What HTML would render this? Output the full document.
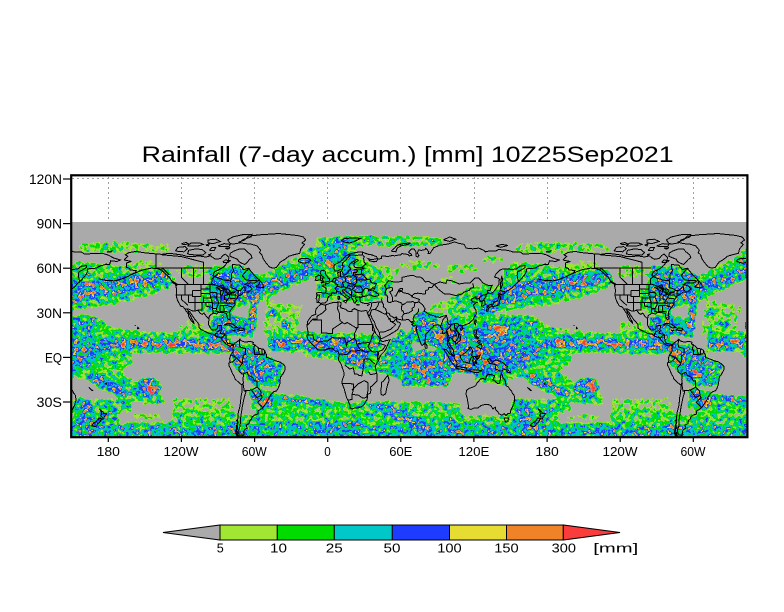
<!DOCTYPE html>
<html><head><meta charset="utf-8"><style>
html,body{margin:0;padding:0;background:#fff}
svg{display:block}
.a{fill:#707070}.b{fill:#8a8a8a}.c{fill:#a3a3a3}.d{fill:#b6b6b6}.e{fill:#c8c8c8}.f{fill:#dcdcdc}.g{fill:#2a2a2a}
polyline{fill:none;stroke:#000;stroke-width:1;vector-effect:non-scaling-stroke;shape-rendering:crispEdges}
.lbl{font-family:"Liberation Sans",sans-serif;fill:#000}
</style></head><body>
<svg width="784" height="612" viewBox="0 0 784 612" xmlns="http://www.w3.org/2000/svg">
<rect width="784" height="612" fill="#fff"/>
<defs>
<clipPath id="dat"><rect x="72" y="222" width="674" height="214.5"/></clipPath>
<filter id="rain" filterUnits="userSpaceOnUse" x="71" y="222" width="676" height="215" color-interpolation-filters="sRGB">
<feGaussianBlur in="SourceGraphic" stdDeviation="1.3" result="bl"/>
<feTurbulence type="fractalNoise" baseFrequency="0.23" numOctaves="2" seed="7" result="t"/>
<feColorMatrix in="t" type="matrix" values="1 0 0 0 0 0 1 0 0 0 0 0 1 0 0 0 0 0 0 1" result="n"/>
<feComposite in="bl" in2="n" operator="arithmetic" k1="0" k2="1" k3="0.8" k4="-0.4" result="s"/>
<feColorMatrix in="s" type="matrix" values="1 0 0 0 0 1 0 0 0 0 1 0 0 0 0 0 0 0 0 1" result="m"/>
<feComponentTransfer in="m">
<feFuncR type="discrete" tableValues="0.667 0.667 0.667 0.667 0.667 0.667 0.667 0.667 0.627 0.627 0 0 0 0 0.118 0.118 0.902 0.941 0.941 0.98"/>
<feFuncG type="discrete" tableValues="0.667 0.667 0.667 0.667 0.667 0.667 0.667 0.667 0.902 0.902 0.863 0.863 0.784 0.784 0.235 0.235 0.863 0.51 0.51 0.235"/>
<feFuncB type="discrete" tableValues="0.667 0.667 0.667 0.667 0.667 0.667 0.667 0.667 0.196 0.196 0 0 0.784 0.784 1 1 0.196 0.157 0.157 0.235"/>
<feFuncA type="linear" slope="0" intercept="1"/>
</feComponentTransfer>
</filter>

<g id="F" transform="matrix(1.21875 0 0 -1.487 -111.075 357.4)">
<rect class="b" x="-180" y="-58" width="360" height="20"/>
<rect class="c" x="-180" y="-58" width="360" height="13"/>
<polygon class="g" points="-170,-37 -128,-37 -128,-43 -170,-44"/>
<polygon class="g" points="112,-33 145,-34 145,-39 112,-39"/>
<polygon class="a" points="152,70 190,69.5 232,70.5 230,77 190,78.5 155,77.5"/>
<ellipse class="a" cx="75" cy="62" rx="18" ry="4"/>
<ellipse class="a" cx="110" cy="60" rx="14" ry="4"/>
<ellipse class="a" cx="135" cy="66" rx="10" ry="3"/>
<ellipse class="a" cx="50" cy="58" rx="10" ry="4"/>
<ellipse class="a" cx="100" cy="52" rx="8" ry="3"/>
<ellipse class="a" cx="150" cy="58" rx="10" ry="4"/>
<ellipse class="a" cx="95" cy="33" rx="12" ry="5"/>
<polygon class="a" points="235,14 265,13 258,24 240,25"/>
<ellipse class="a" cx="-150" cy="-40" rx="14" ry="2.5"/>
<polygon class="a" points="-128,-27 -80,-27 -75,-36 -128,-38"/>
<ellipse class="a" cx="-150" cy="62" rx="15" ry="4"/>
<ellipse class="a" cx="-110" cy="58" rx="15" ry="5"/>
<polygon class="a" points="-55,15 -25,15 -20,35 -50,40"/>
<ellipse class="a" cx="40" cy="55" rx="15" ry="8"/>
<ellipse class="b" cx="180" cy="74" rx="15" ry="2.5"/>
<polygon class="b" points="-10,75 30,74 60,74 95,75 95,81 60,82.5 20,82.5 -10,81"/>
<polygon class="b" points="140,30 160,32 185,35 210,40 230,46 236,52 230,60 210,61 190,62 170,64 152,65 140,50"/>
<polygon class="b" points="100,22 125,25 140,30 145,38 145,47 130,50 115,47 100,40"/>
<polygon class="b" points="100,-10 150,-15 185,-12 200,-5 200,5 185,20 170,28 150,30 130,28 115,25 100,25 95,10"/>
<polygon class="b" points="170,2 200,2 240,2 270,1 282,3 282,17 260,18 240,17 210,18 190,20 170,22"/>
<polygon class="b" points="150,-2 175,0 190,-8 205,-18 225,-25 228,-32 210,-32 190,-28 170,-20 155,-12"/>
<polygon class="b" points="150,-28 200,-27 200,-40 150,-40"/>
<polygon class="b" points="-128,-36 -75,-36 -75,-46 -128,-46"/>
<polygon class="b" points="-60,-22 -40,-24 -20,-25 0,-28 20,-30 20,-40 -60,-40"/>
<polygon class="b" points="20,-28 110,-30 110,-40 20,-40"/>
<polygon class="b" points="-105,30 -80,28 -70,40 -70,45 -95,50 -105,45"/>
<polygon class="b" points="-78,32 -55,37 -35,45 -15,52 5,60 25,72 25,82 5,82 -15,72 -35,64 -55,56 -75,46"/>
<polygon class="b" points="-50,3 -15,3 -10,18 -50,18"/>
<polygon class="b" points="-65,-20 -45,-22 -48,-35 -65,-35"/>
<polygon class="b" points="-20,0 10,-3 30,-12 45,-8 45,15 20,17 -20,17"/>
<polygon class="b" points="-10,40 20,36 45,38 55,50 40,60 20,72 0,72 -10,55"/>
<polygon class="b" points="120,-10 145,-10 150,-20 130,-18 120,-16"/>
<ellipse class="b" cx="-10" cy="70" rx="12" ry="5"/>
<ellipse class="c" cx="5" cy="78" rx="8" ry="2"/>
<polygon class="c" points="110,5 120,-10 150,-12 170,-5 175,10 160,20 140,25 120,20"/>
<ellipse class="c" cx="160" cy="22" rx="12" ry="6"/>
<polygon class="c" points="-100,45 -75,42 -60,45 -55,55 -70,62 -95,62"/>
<polygon class="c" points="-98,18 -80,15 -60,12 -60,25 -80,30 -95,28"/>
<polygon class="c" points="-80,-5 -60,-20 -40,-20 -35,-5 -50,2 -65,10 -78,8"/>
<ellipse class="c" cx="15" cy="65" rx="8" ry="6"/>
<polygon class="c" points="40,-10 60,-15 70,-5 70,15 60,20 50,10 45,0"/>
<polygon class="c" points="65,12 80,8 90,18 92,28 80,32 70,30 68,20"/>
<polygon class="c" points="60,-20 100,-20 105,-5 95,5 75,6 60,0"/>
<polygon class="d" points="145,35 160,37.5 180,41.5 200,44 215,47 228,51 232,56 226,58 210,56 190,54.5 170,52 150,50 140,45"/>
<polygon class="d" points="125,28 135,30 145,35 150,42 143,44 133,38 125,33"/>
<ellipse class="d" cx="125" cy="40" rx="5" ry="3"/>
<ellipse class="d" cx="130" cy="15" rx="10" ry="7"/>
<ellipse class="d" cx="150" cy="8" rx="12" ry="6"/>
<ellipse class="d" cx="165" cy="4" rx="12" ry="5"/>
<ellipse class="d" cx="125" cy="3" rx="8" ry="6"/>
<ellipse class="d" cx="140" cy="-5" rx="10" ry="5"/>
<ellipse class="d" cx="157" cy="0" rx="9" ry="6"/>
<polygon class="d" points="175,5 200,6 240,6 270,4 280,5 280,11 260,12 240,12.5 210,13 190,13.5 175,13"/>
<polygon class="d" points="165,-10 180,-14 195,-20 200,-26 190,-27 175,-22 162,-15"/>
<ellipse class="d" cx="213" cy="-20" rx="11" ry="7"/>
<polygon class="d" points="155,-54 168,-44 183,-33 189,-35 176,-46 163,-56"/>
<polygon class="d" points="150,-45 162,-39 166,-41 155,-48"/>
<polygon class="d" points="155,-25 165,-30 170,-40 165,-48 158,-45 155,-35"/>
<ellipse class="d" cx="-132" cy="-50" rx="8" ry="2.5"/>
<ellipse class="d" cx="-100" cy="-51" rx="10" ry="2.5"/>
<ellipse class="d" cx="-78" cy="-48" rx="4" ry="4"/>
<polygon class="d" points="-45,-25 -20,-28 0,-30 0,-33 -20,-31 -45,-29"/>
<polygon class="d" points="-10,-45 20,-42 30,-44 30,-48 0,-50 -10,-49"/>
<polygon class="d" points="35,-33 45,-37 65,-45 80,-52 90,-50 80,-42 60,-35 40,-30"/>
<polygon class="d" points="95,-40 110,-45 115,-52 100,-52"/>
<ellipse class="d" cx="-85" cy="52" rx="8" ry="5"/>
<ellipse class="d" cx="-70" cy="48" rx="8" ry="4"/>
<ellipse class="d" cx="-88" cy="42" rx="8" ry="5"/>
<ellipse class="d" cx="-80" cy="36" rx="5" ry="4"/>
<ellipse class="d" cx="-88" cy="22" rx="6" ry="4"/>
<ellipse class="d" cx="-75" cy="18" rx="6" ry="3"/>
<ellipse class="d" cx="-90" cy="13" rx="8" ry="4"/>
<polygon class="d" points="-66,18 -58,18 -56,48 -63,49"/>
<polygon class="d" points="-75,37 -55,42 -35,48 -15,55 5,65 20,78 15,82 0,72 -12,64 -30,58 -50,52 -65,48 -77,43"/>
<ellipse class="d" cx="-45" cy="30" rx="4" ry="3"/>
<ellipse class="d" cx="-35" cy="22" rx="4" ry="3"/>
<polygon class="d" points="-48,6 -18,6 -15,13 -48,14"/>
<polygon class="d" points="-78,0 -68,-12 -55,-15 -45,-8 -50,0 -62,5 -75,5"/>
<ellipse class="d" cx="-58" cy="-25" rx="6" ry="4"/>
<ellipse class="d" cx="-77" cy="7" rx="5" ry="4"/>
<polygon class="d" points="-17,5 10,3 15,-5 30,-8 35,5 30,12 10,14 -17,14"/>
<ellipse class="d" cx="38" cy="10" rx="4" ry="4"/>
<polygon class="d" points="5,45 20,42 35,48 30,58 15,60 5,52"/>
<polygon class="d" points="72,17 85,18 90,24 88,28 78,28 74,22"/>
<polygon class="d" points="82,8 95,5 110,5 115,15 108,25 95,25 85,18"/>
<polygon class="d" points="65,-12 95,-18 100,-8 90,3 70,2 62,-5"/>
<polygon class="d" points="95,-10 130,-12 150,-8 150,5 125,10 105,10 95,0"/>
<ellipse class="e" cx="141" cy="18" rx="8" ry="6"/>
<polygon class="e" points="185,8 265,7.5 265,10.5 185,11"/>
<ellipse class="e" cx="215" cy="-20.5" rx="6" ry="4.5"/>
<ellipse class="e" cx="-51" cy="-30" rx="6" ry="4"/>
<polygon class="f" points="157,48.5 166,49.5 166,51.5 157,50.5"/>
<polygon class="f" points="181,41.5 192,42.5 192,44 181,43"/>
<polygon class="f" points="196,49.5 209,50.5 209,52 196,51"/>
<polygon class="f" points="155,40 165,41 165,42.5 155,41.5"/>
<ellipse class="f" cx="141" cy="18" rx="4.5" ry="4"/>
<ellipse class="f" cx="192" cy="8" rx="5" ry="1.6"/>
<ellipse class="f" cx="210" cy="10" rx="5" ry="1.6"/>
<ellipse class="f" cx="232" cy="9" rx="5" ry="1.6"/>
<ellipse class="f" cx="270" cy="7.5" rx="5" ry="1.6"/>
<ellipse class="f" cx="216" cy="-21" rx="3.5" ry="3"/>
<ellipse class="f" cx="-50" cy="-30.5" rx="3" ry="2.5"/>
<ellipse class="f" cx="-60" cy="40" rx="2" ry="3"/>
<ellipse class="f" cx="-61" cy="30" rx="2" ry="3"/>
<ellipse class="f" cx="-62" cy="22" rx="2" ry="2"/>
<ellipse class="f" cx="-18" cy="64" rx="5" ry="1.6"/>
<ellipse class="f" cx="2" cy="62" rx="3" ry="2"/>
<ellipse class="f" cx="-38" cy="9" rx="3" ry="1.6"/>
<ellipse class="f" cx="-25" cy="10" rx="3" ry="1.6"/>
<ellipse class="f" cx="-57" cy="-11" rx="4" ry="2"/>
<ellipse class="f" cx="-70" cy="-3" rx="2" ry="2"/>
<ellipse class="f" cx="-75" cy="3" rx="3" ry="2"/>
<ellipse class="f" cx="-78" cy="6" rx="2" ry="2"/>
<ellipse class="f" cx="-80" cy="25" rx="2" ry="2"/>
<ellipse class="f" cx="-10" cy="9" rx="2.5" ry="2"/>
<ellipse class="f" cx="5" cy="10" rx="3" ry="2"/>
<ellipse class="f" cx="20" cy="4" rx="3" ry="2"/>
<ellipse class="f" cx="28" cy="-2" rx="2" ry="2"/>
<ellipse class="f" cx="92" cy="14" rx="4" ry="3"/>
<ellipse class="f" cx="100" cy="17" rx="3" ry="2"/>
<ellipse class="f" cx="110" cy="12" rx="3" ry="2"/>
<ellipse class="f" cx="70" cy="-4" rx="3" ry="2"/>
<ellipse class="f" cx="84" cy="-16" rx="3" ry="2"/>
<ellipse class="f" cx="80" cy="-8" rx="2" ry="2"/>
<ellipse class="f" cx="105" cy="0" rx="3" ry="3"/>
<ellipse class="f" cx="115" cy="-5" rx="3" ry="2"/>
<ellipse class="f" cx="125" cy="5" rx="3" ry="3"/>
<ellipse class="f" cx="130" cy="-3" rx="3" ry="2"/>
</g>

<g id="C" transform="matrix(1.21875 0 0 -1.487 -111.075 357.4)">
<polyline points="-167,65.5 -164,68 -166,69 -163,70.5 -157,71.3 -152,70.5 -146,70 -141,69.6 -136,69.3 -130,70 -125,69.5 -119,68.8 -115,67.8 -110,67.9 -105,68.2 -100,67.5 -96,68.3 -94,67 -92,66 -88,66.5 -86,68.5 -84,69.5 -82,68 -81,67 -82,64.5 -84,62 -86,60.5 -89,59 -93,57.5 -94,55 -92,54 -85,52 -80,51.5 -79,53 -79,56 -77,58.5 -78,60 -78,62.5 -72,62 -69,59 -65,60 -62,57 -60,55 -56,52 -60,50 -66,50 -68,49 -64,48 -62,46 -65,44 -68,44 -70,43 -71,42 -74,41 -74,40 -76,38.5 -76,37 -76,35.3 -77,34.5 -79,32.5 -80.5,30.5 -80,27 -80,26 -81,25.2 -82,26 -82.5,27 -83,29.5 -85,30 -87,30.3 -90,30.2 -91,29.2 -94,29.8 -97,28 -97.5,26 -97.7,22 -96,19.5 -94.5,18.3 -92,18.5 -90.5,19.5 -90.5,21.2 -87,21.5 -87.2,18.5 -88.2,16 -85,15.8 -83.5,15 -83.5,13 -83.2,11 -82.1,9.4 -80,9.3 -78,8.8 -77,8.5 -77.5,7.8 -78.5,8.3 -80,7.5 -82,8.2 -84,9.5 -85.7,11 -87.5,13 -91,14 -94,15.8 -97,16 -100,17.2 -104,18.8 -105.5,20 -105.5,22 -107,23.8 -109,25.5 -111,28 -113,30.5 -114.7,31.7 -114,30 -112.5,28 -111.5,26 -110,24 -109.8,23 -111,24 -112,24.8 -114,27.5 -114.5,29.5 -116,31 -117.2,32.6 -118.5,34 -120.6,34.5 -122,36.5 -123,38 -123.8,40 -124.3,42 -124,44 -124,46 -124.7,48.4 -123,49 -125,50 -128,51.5 -130,54 -133.5,56.5 -136,58.5 -140,59.8 -144.5,60 -148,59.5 -152,58.8 -156,57.5 -160,56 -163,55 -158,57 -157,58.5 -162,58.7 -162.5,59.8 -165,60.5 -165,62 -165,63.5 -161,64.5 -167,65.5"/>
<polyline points="-123.5,48.4 -125.5,49.5 -128.3,50.8 -127,50.5 -124.5,49 -123.5,48.4"/>
<polyline points="-73,77.5 -68,79 -65,81.5 -55,82.5 -40,83.3 -25,82 -20,81 -18,79 -21,77 -19,76 -22,73 -23,70 -28,69 -32,68 -35,66 -39,64 -42,60.5 -45,60 -48,61 -51,64 -53,66.5 -54,69 -56,70.5 -55,72 -58,75 -63,76.2 -68,76.5 -73,77.5"/>
<polyline points="-24,65.5 -22,66.4 -16,66.5 -14,65 -18,63.4 -22,63.8 -24,64.5 -24,65.5"/>
<polyline points="-80,70 -77,71.5 -72,73 -68,72.8 -66,71 -63,69 -62,67 -64,66 -66,64 -68,62.5 -71,63.5 -73,64.5 -74,66 -77,67 -80,68 -80,70"/>
<polyline points="-80,76.5 -82,79 -78,81 -70,82.5 -62,82.8 -63,81 -70,79 -72,77 -77,76.3 -80,76.5"/>
<polyline points="-90,75 -85,76.5 -80,76 -81,74.5 -88,74.5 -90,75"/>
<polyline points="-115,69.5 -114,72 -108,73 -103,72.5 -100,70.5 -102,69 -108,68.8 -115,69.5"/>
<polyline points="-125,71.5 -123,74 -117,74.5 -115,73 -118,71 -125,71.5"/>
<polyline points="-115,75 -112,77 -105,77 -102,76 -107,74.8 -115,75"/>
<polyline points="-98,77 -98,79 -92,79.5 -88,78 -94,76.5 -98,77"/>
<polyline points="-97,72 -95,74 -92,73.8 -93,72 -97,72"/>
<polyline points="-120,76.5 -116,77.3 -114,76.3 -118,75.8 -120,76.5"/>
<polyline points="-100,75.5 -97,76.5 -98,75 -100,75.5"/>
<polyline points="-98,69 -96,69.5 -97,68.5 -98,69"/>
<polyline points="-84,73.5 -80,73.8 -82,72.8 -84,73.5"/>
<polyline points="-86,64 -84,65.5 -80,65 -82,63.8 -86,64"/>
<polyline points="-59,47.6 -56,49.5 -55.5,51.5 -53,49 -52.8,47 -55,46.8 -59,47.6"/>
<polyline points="-85,21.8 -82,23 -78,22.3 -74.2,20.2 -77.5,19.8 -80,21.5 -83,22 -85,21.8"/>
<polyline points="-74.4,18.5 -72,19.9 -69,19.5 -68.4,18.5 -71,18 -74.4,18.5"/>
<polyline points="-78.3,18.4 -76.3,18 -77,17.8 -78.3,18.4"/>
<polyline points="-92,46.7 -89,48 -86,48.7 -84.5,46.5 -87,46.5 -90,46.6 -92,46.7"/>
<polyline points="-87.8,42 -88,44.5 -85,46 -85.5,44 -86.5,42 -87.8,42"/>
<polyline points="-84.5,46 -81.5,45.9 -80,44.5 -82,43 -84,44 -84.5,46"/>
<polyline points="-83.5,41.7 -79,42.8 -80.5,42.5 -83,42 -83.5,41.7"/>
<polyline points="-79.8,43.3 -76.2,43.5 -77,44 -79.2,43.8 -79.8,43.3"/>
<polyline points="172,52.8 178,51.8 185,51.5 190,52.5 195,54 197,54.8"/>
<polyline points="-156,19 -155,19.6 -155.8,20.2 -156,19"/>
<polyline points="-158.3,21.3 -157.7,21.6 -158,21.2"/>
<polyline points="-77,8.6 -76,9.6 -74.5,10.5 -73,11.2 -72,12.3 -70.5,11 -68.5,10.5 -66,10.5 -64,10.6 -62,10.5 -61,10 -61.5,9 -60,8.5 -58,7.2 -56.5,6 -54.5,5.8 -53,5.5 -51.5,4.5 -51,3 -50,1.5 -50,0 -48,-0.5 -47,-1 -45,-1.5 -42,-2.5 -39.5,-3 -37.5,-4 -36,-5 -35,-6 -34.8,-7.5 -35,-8.5 -36,-10 -37,-11.5 -38.5,-13 -39,-15 -39.2,-17.5 -40,-19.5 -40.7,-21 -42,-22.5 -44,-23 -45.5,-24 -47,-25.5 -48.5,-28 -49.5,-29.5 -51,-31.3 -52.5,-33 -53.5,-34 -55,-35 -57.3,-36 -57.2,-38 -60,-38.8 -62,-40 -62.5,-41.5 -64,-42.5 -64.5,-44.5 -67,-45.5 -66,-47.5 -68,-48.5 -69,-50 -68.5,-52 -70,-53 -71,-54.5 -74,-53 -75.5,-51 -75,-48 -74.5,-46 -74,-43 -73.7,-41 -73.5,-38 -73,-36 -72,-33 -71.5,-30 -71.2,-27 -70.5,-24 -70.2,-21 -70.3,-18.5 -72,-17.5 -74,-16 -76,-14.5 -76.5,-13 -78,-11 -79,-9 -80,-7 -81,-5.5 -81.2,-4 -80.5,-3 -80,-2 -80.5,-1 -80,0.5 -79.5,1.5 -78.5,3 -77.5,4 -77.5,5.5 -77.5,7 -77,8.6"/>
<polyline points="-75,-42 -73.5,-44 -75,-46 -74,-48 -75.5,-50 -74,-52 -72,-53.5"/>
<polyline points="-73.5,-43 -74.5,-45 -73.8,-47 -75,-49 -73.5,-51 -75,-53"/>
<polyline points="-5.6,35.9 -8,34 -9.5,32.5 -10,31 -9.7,29 -13,28 -15,26 -16.5,24 -17,21 -16.5,19 -16,16 -17,14.7 -16.5,12.5 -15,11 -13,9 -11,7.5 -8,5 -5,4.8 -2,5.1 1,6 3.5,6.3 6,4.5 8.5,4 9.5,2 9,0 9,-2 11,-4.5 12,-7 13.5,-10.5 13.5,-12 12,-15 11.8,-17.5 13.5,-21 14.5,-24 15.5,-27 17,-29.5 18.2,-32 18.5,-34 20,-34.8 22,-34 25,-34 28,-33 30,-31.5 31,-30 32.3,-28.5 32.8,-26 32.5,-25 35,-24 35.5,-22 35,-20 36.8,-19 39,-17 40.5,-16 40.6,-14 40.3,-11 39.5,-8 39,-6 40,-4.5 41,-3 42,-1.5 42.5,0 44,2 46.5,4 48,6 49,8 50,10 51.3,11.8 48,11.3 45,10.5 43.5,11.6 42.5,13 41,14.8 39.5,16 38.5,18 37.3,21 36.5,22.5 35.5,24.5 34.5,26.5 33.5,28 32.5,30 32.3,31.3 31,31.5 28,31 25,31.6 22,32.8 20,32 19.8,30.8 18,30.8 16,31.3 15,32.3 11,33.3 10.2,34.5 11,35.5 11,37 9,37.2 7,37 4,36.8 0,35.8 -2,35.1 -5.6,35.9"/>
<polyline points="44,-25 43.5,-22 44.3,-19 44,-17 46,-15.7 48,-13.5 49.3,-12 50.5,-15.5 49.5,-17.5 48.5,-20.5 47.5,-24.5 45.5,-25.5 44,-25"/>
<polyline points="-5.6,36 -7,37 -8.9,37 -8.8,38.8 -9.5,39.5 -8.8,42 -9.2,43.2 -7.5,43.7 -4,43.4 -1.8,43.4 -1.3,44.5 -1.2,46 -2.3,47.2 -4.5,48 -3,48.8 -1.5,48.7 -1.8,49.7 0,49.5 1.5,50.2 2.5,51 4,51.5 4.8,53 7,53.5 8.8,54 8.3,55.5 8.2,57 10.5,57.7 10.5,56.5 10.7,55.5 10,54.5 11.5,54.2 14,54 17,54.7 19.5,54.5 21,55.3 21,57 23.5,57 24.5,58.5 22.5,59 25,59.5 28,59.6 30,60 28,60.5 25,60.3 22.5,60.5 21.5,61.5 21.5,63 23.5,64.5 25.3,65 24.5,65.8 22,65.5 21.5,64.5 19,63.5 18,62.5 17.3,61 18.5,60 19,59.3 17.5,58.7 16.5,57 16,56.3 14.2,55.5 12.8,55.5 12.5,56.5 11.8,57.7 11.2,58.9 10,59 8,58 6,58.2 5.2,59.5 5,61.5 6,62.5 8.5,63.5 10,64.2 12.5,65.8 14,67.5 15.5,68.5 18,69.5 20,70 23,70.5 26,71 28.5,70.8 31,70 33,69.4 36,69 40,67.8 41,66.5 38,66 34.8,66 33,66.5 34.5,65 36.5,64.5 38,64.3 40,64.5 41,66 44,66.5 44,68 46,68.3 49,67.8 53,68.5 55,68.3 58,68.8 60,69 61,69.8 66,69.2 67,68.3 69,68.5 68.5,69.5 66.5,70.5 67,71.5 69,73 71,72.8 72.5,71 72.5,68 74,67.5 75,68.5 73.5,70 74.5,72.2 77,72 80,72.5 80.5,73.5 83,71 82.5,70 84,70 87,73.7 92,75.5 97,76 100,76.5 104,77.7 107,76.8 112,76 113.5,73.5 119,73 124,73.5 128,72 129.5,71 132,71.5 138,71.5 140,72.5 146,72.2 150,71.5 152,70.9 158,70.8 160,69.7 165,69.7 168,70 170,69.8 176,69.8 180,68.8 184,67 187,66.2 190,65.5 187,64.5 182,65 181,62.5 178,62.5 179,63 176,62 174,61.7 170,60 166,59.8 163,59.5 163,58 162,56 161,55 158,52 156.5,51 156,52.5 155.5,55 155.8,57.5 157,58 160,59.3 162,60.5 162,61.7 158,61.5 155,59.5 152,59.2 149,59.3 145,59.3 143,59.3 141,58.5 138,56 137,54 140,53.3 141,52.5 140.5,51 140.5,49 139,47.5 138,46 136,44 134,43 132,43.2 130,42.5 129.8,40.8 129,40 128,39 129,37.5 129.4,35.5 127,34.5 126.3,34.6 126.5,36 126.7,37.5 125,37.7 124.5,39.7 122,39.2 121,40.5 122,40.6 121.5,40.9 120,40 118,39.2 117.7,38.5 118.7,37.5 119.8,37.2 122.5,37 120.7,36.1 119.5,35.2 120.8,32.6 121.8,31.7 121.6,30.6 122,29.8 121.5,28.5 120.3,27.2 119.5,25.5 118,24.5 116,22.9 114,22.3 112,21.7 110.5,21.2 110.3,20.3 109.7,21.5 108,21.5 106.7,20.5 105.7,19 106.5,17.5 108,16 109,13.8 109.2,12 108,10.8 106.7,10.3 104.8,8.6 105,10 104.5,10.5 103,11 102.3,12.2 100.9,13.4 100,13.5 99.3,10.5 100.3,8.3 101.3,6.8 102.2,6.2 103.4,4.5 103.4,2.6 104.2,1.4 103.5,1.3 101.3,2.8 100.5,4.2 100.3,6 98.5,8.2 98.3,10 98.6,12 97.7,16 97.3,17 95.5,15.8 94.3,16.1 94.5,18.5 93,20 92,21.5 90.5,22 89,21.8 87,21.5 86.9,20.7 85,19.5 82.3,17 80.3,15.3 80.2,13 79.8,10.3 78.9,9 77.5,8 76.6,8.9 76,10.5 75,12.5 74.2,14.7 73.2,17 72.9,19.5 72.7,21.2 72.5,21.8 70.5,21 69,22.3 70.5,23 68.5,23.6 67.2,24.8 66.5,25.4 64,25.3 61.5,25.1 58.8,25.5 57.3,25.9 56.4,27.2 54.6,26.5 52.8,27.5 51.3,28 50.6,29.2 49.5,30 48.5,29.9 47.9,29.3 48.5,28.5 49.5,27 50.2,26.3 50.5,25.4 51.1,26.1 51.6,25 51.6,24.2 52.5,24.2 54.5,24.3 56.3,26.2 56.4,24.9 57.3,23.8 58.9,23.6 59.8,22.5 58.5,20.5 57.7,19 55.5,17.6 52.2,16 49,14.5 45,12.9 43.5,12.6 43.2,13.5 42.6,15.5 42.5,16.6 41.2,18.5 40,20 39.1,21.6 38.5,23.6 37.5,24.8 36.6,26 35.6,28 34.9,29.4 34.3,28 33.8,27.7 32.6,29.9 34.2,31.3 34.9,32.5 35.5,33.8 36,34.6 35.8,36 36.2,36.7 34.5,36.8 32.5,36.1 30.5,36.3 29,36.6 27.3,37 26.3,38.3 26.7,39.3 26.1,40.6 27.5,40.4 29,41 31.5,41.2 33.5,42 35.2,42 36.9,41.3 38.3,40.9 41.5,41.5 41.6,42.6 39.5,44 37.5,44.7 38.3,46.3 37,46.8 35,45.6 33.5,46 33.6,44.6 35.5,45.1 36.5,45.3 33.5,46 31.5,46.6 30.7,46.4 29.6,45.4 28.6,44.2 27.9,42.5 28.9,41.3 26.4,40.2 26,40.8 24,40.7 23,40.3 22.7,39.8 23.2,39 24,38.2 23,37.5 22.5,36.4 21.5,37 21,38.2 19.5,40.3 19.4,41.7 18.5,42.4 17,43.2 15.5,44 14,45 13.5,45.7 12.3,45.3 12.4,44.2 13.6,43.5 14.6,42.1 16,41.4 18.5,40.2 17.2,39.4 16.6,38.8 15.6,38 16.2,39.5 15.5,40 14.1,40.8 13.6,41.3 11.2,42.4 10.3,43.9 8.9,44.4 7.5,43.8 6,43.1 4.5,43.4 3,43.3 3.2,41.9 0.8,41 0.2,40 -0.3,39.3 0,38.7 -0.7,37.6 -2.1,36.7 -4.4,36.7 -5.6,36"/>
<polyline points="-5.7,50 -3,50.6 1.4,51.2 1.7,52.6 0.3,53.4 -0.2,54.5 -1.5,55.6 -2,56.5 -1.8,57.6 -3,58.6 -5,58.6 -6.2,57.3 -5.6,56 -4.8,54.8 -3.2,54.1 -3,53.3 -4.6,53.3 -4.2,52.3 -5.2,51.7 -3.4,51.4 -5.7,50"/>
<polyline points="-6,52.2 -6,53.9 -5.7,54.8 -7.5,55.3 -8.4,54.7 -10,54.2 -9.5,53 -10.3,51.9 -8.3,51.8 -6,52.2"/>
<polyline points="52,71.5 55,73.5 57,75.5 62,76.5 68,77 66,76 60,75 57,73.5 56,71 52,71.5"/>
<polyline points="11,78.5 14,80 22,80.3 27,80 22,78 18,77 14,77.5 11,78.5"/>
<polyline points="95,79 100,81 105,79.5 100,78 95,79"/>
<polyline points="138,75 143,76 148,75.3 142,74 138,75"/>
<polyline points="179,71 183,71.5 182,70.8 179,71"/>
<polyline points="47,42 47.5,45 49,46.5 51.5,47 53,46.8 53,45 51,44 52.5,41.8 53.2,40 53,37.5 51,36.8 49,37.5 49.3,40.5 48.5,41.8 47,42"/>
<polyline points="58.5,44 61,44.5 61.5,46.5 59.5,46.5 58.5,44"/>
<polyline points="12.4,38 15.6,38.3 15,36.7 12.4,38"/>
<polyline points="8.4,39 9.8,39.2 9.6,41 8.3,40.9 8.4,39"/>
<polyline points="23.5,35.3 26.3,35.2 24,35.6 23.5,35.3"/>
<polyline points="32.3,34.7 34.5,35.6 33,35.3 32.3,34.7"/>
<polyline points="79.9,6.5 80.1,9.8 81.5,8 81.7,6.4 80.6,5.9 79.9,6.5"/>
<polyline points="108.6,19 110,20 111,19.5 110,18.2 108.6,19"/>
<polyline points="120.2,23 121,25.2 122,25 121.2,22 120.2,23"/>
<polyline points="130,31.5 131,33.3 132,34.2 131,34.5 133,35.5 136,35.8 136.2,37.2 137,37 139.5,38.3 140,39.8 140,41.2 141,41.5 140,42.5 141.3,43.2 141.7,45.3 142.7,44.6 145.3,44.2 145.5,43.3 143.3,42 141.5,42.6 141.4,41.4 142,39.5 141,38.3 140.9,36.6 140.5,35.3 139.7,35.1 139,34.8 137,34.6 136,33.8 135,33.9 135.2,34.6 134,34.4 133,33.5 132,33 131.5,31.5 130.5,31 130,31.5"/>
<polyline points="142,46 141.8,49 142.2,52 142.8,54.3 143.5,53 143,50 143.5,49 142.5,47 142,46"/>
<polyline points="145.5,43.5 147,44.5 150,46 152.5,47.5 154.5,49.5 156.5,50.8"/>
<polyline points="120,18.5 122.4,18.4 122,16 121.5,14.5 124,13 123,12.5 121,13.7 120.6,14.5 120,16 120,18.5"/>
<polyline points="122,7 124.5,8.6 126.4,9 126.5,6.5 125.4,5.6 124,6.7 122,7"/>
<polyline points="123,11 125,11.5 125,10 123.5,9.5 123,11"/>
<polyline points="109,1.7 110.5,1.6 113,3.3 115.5,5.3 117,7 118.5,5.3 119,4.3 118,1.1 119,0.5 117.5,-0.5 116.5,-2.6 116,-3.9 114.5,-3.6 113,-3.2 111.5,-3 110,-1.7 109,0 109,1.7"/>
<polyline points="95.3,5.6 97.5,5.2 100,2.5 103.7,0.5 104.5,-1.8 106,-3.1 105.9,-5.7 104.5,-5.9 102.3,-4 101,-2.4 99.2,0 98,2.2 96.5,3.7 95.3,5.6"/>
<polyline points="105.2,-6.8 106,-6 108.3,-6.3 110.5,-6.9 112.5,-6.8 114.5,-7.7 114.4,-8.7 111,-8.2 108,-7.8 106,-7.4 105.2,-6.8"/>
<polyline points="119.5,-5.5 119.7,-3.5 118.8,-2.5 119.8,0 120.5,0.6 123,0.9 125,1.4 124.4,0.4 121,0.4 122,-0.9 123.3,-0.9 121.5,-1.9 122.5,-4.5 121,-2.8 120.5,-5.5 119.5,-5.5"/>
<polyline points="115,-8.5 120,-8.5 123,-8.3 125.5,-9 127,-8.4 124,-10 120,-10 116,-9 115,-8.5"/>
<polyline points="131,-1.5 133,-0.7 135,-3.3 138,-1.6 141,-2.6 144.5,-3.8 146,-5.5 147.5,-6 147,-8 148.5,-9 150,-10.4 148,-10.2 146,-8.3 144,-7.7 143.5,-9 141,-9.1 139,-8.1 138,-8.4 137.8,-6.6 138,-5 135,-4.4 133,-4 132,-2.8 131,-1.5"/>
<polyline points="114,-22 113.5,-24.5 114.6,-28 115,-30 115.7,-33.5 115,-34.3 117.8,-35 120,-34 123.5,-33.9 126,-32.3 129,-31.7 131.2,-31.5 134,-32.5 135.5,-34.7 137.5,-33.5 138,-35.5 139.6,-36.5 140.6,-38 143,-38.8 144.9,-37.8 146.3,-39 148,-37.8 150,-37.5 150.2,-35.7 151.2,-33.9 152.5,-32 153.5,-28.5 153,-25.4 151.5,-24 150.8,-22.5 149,-21 148.5,-20 146.3,-19 146,-17 145.4,-15 144,-14.2 143.5,-12.7 142.5,-10.8 141.7,-12.8 141.6,-15.2 140.8,-17.4 139.2,-17.4 137.5,-16 135.5,-15 136.7,-13.2 136.8,-12.2 135.7,-12 133,-11.4 131.8,-11.4 130.3,-12.5 129.4,-14.9 127.5,-14.1 125.5,-14.5 123.6,-16.3 122.3,-17.6 121.5,-19 119,-20 116.5,-20.7 114,-22"/>
<polyline points="144.7,-40.7 148.3,-40.9 148,-43.2 146,-43.6 144.7,-40.7"/>
<polyline points="172.7,-34.5 174.5,-36 175.8,-36.8 176,-37.6 178.5,-37.7 177.9,-39.2 176.9,-39.4 176.2,-41.3 174.6,-41.3 175.2,-40.2 173.8,-39.2 174.6,-38 174.2,-36.5 172.7,-34.5"/>
<polyline points="172.7,-40.5 174.3,-41.7 173.2,-43.1 172.7,-43.8 171.2,-44.5 170.6,-45.9 169.3,-46.6 166.5,-46 166.8,-45.2 168.4,-44 170.6,-42.9 172,-41.2 172.7,-40.5"/>
<polyline points="164,-20.2 167,-22.3 166.5,-22.3 164,-20.2"/>
<polyline points="177.3,-17.5 178.5,-17.3 178.3,-18.2 177.3,-17.5"/>
<polyline points="-123,49 -95,49 -95,49.4 -89.5,48 -84.5,46.5 -82.5,45 -82.5,42.5 -79,43 -76.5,44 -74.7,45 -71.5,45 -70,46.5 -69,47.3 -68,47.3 -67.8,45 -67,44.8"/>
<polyline points="-117.1,32.5 -114.7,32.7 -111,31.3 -108.2,31.3 -106.5,31.8 -104.5,29.6 -103,29 -101.5,29.8 -99.5,27.5 -97.3,25.9"/>
<polyline points="-141,69.6 -141,60.3 -137.5,59 -135,59.6 -133,58 -130,55.5"/>
<polyline points="-120,42 -120,39 -114.6,35"/>
<polyline points="-124.2,42 -111,42"/>
<polyline points="-117,42 -117,49"/>
<polyline points="-114,42 -114,37"/>
<polyline points="-114,37 -94.6,37"/>
<polyline points="-111,45 -111,41 -104,41"/>
<polyline points="-109,41 -109,31.3"/>
<polyline points="-111,45 -104,45"/>
<polyline points="-104,49 -104,41"/>
<polyline points="-102,41 -102,37"/>
<polyline points="-103,37 -103,32 -106.5,32"/>
<polyline points="-104,46 -96.5,46"/>
<polyline points="-104,43 -96.5,43"/>
<polyline points="-102,40 -95.3,40"/>
<polyline points="-100,37 -100,34.5 -94.5,33.6"/>
<polyline points="-96.5,49 -96.5,42.5 -95.8,40 -94.6,37 -94.5,33.6 -94,29.7"/>
<polyline points="-91.5,43.5 -90.6,42.5 -91.4,40.4 -89.5,37 -90,35 -91.2,33 -91.6,31 -89.7,31 -89.6,30.2"/>
<polyline points="-96.5,43.5 -91.2,43.5"/>
<polyline points="-95.8,40.6 -91.7,40.6"/>
<polyline points="-94.6,36.5 -89.7,36.5 -81.7,36.6 -75.9,36.6"/>
<polyline points="-94.6,33 -91.2,33"/>
<polyline points="-88.2,35 -83.1,35"/>
<polyline points="-88.5,35 -88.4,30.3"/>
<polyline points="-85.5,35 -85,31 -87.6,31 -87.5,30.3"/>
<polyline points="-85,31 -82,30.6 -81.5,30.7"/>
<polyline points="-83,35 -78.5,33.9"/>
<polyline points="-87.5,41.7 -87.5,38 -88,37.5"/>
<polyline points="-84.8,41.7 -84.8,39.1"/>
<polyline points="-84.8,39.1 -82.6,38.4 -80.6,40.6 -80.5,42"/>
<polyline points="-80.5,39.7 -75.8,39.7"/>
<polyline points="-79.8,42 -75.3,42 -75,41"/>
<polyline points="-73.5,41 -73.3,45"/>
<polyline points="-72.5,42.7 -71,42.8"/>
<polyline points="-83,41.7 -84.8,41.7"/>
<polyline points="-90.4,46.6 -89.5,46 -87.8,45.3"/>
<polyline points="-82.6,38.4 -83.7,36.6"/>
<polyline points="-141,60 -94.8,60"/>
<polyline points="-120,60 -120,53.8 -114,49"/>
<polyline points="-110,49 -110,60"/>
<polyline points="-102,49 -102,60"/>
<polyline points="-95.2,49 -95,52.8 -89,56.9"/>
<polyline points="-79.5,51.5 -79.5,47 -74.5,45.5"/>
<polyline points="-102,60 -102,64 -120,67.8 -136,69"/>
<polyline points="-64,60 -67,58 -70,55 -67,52 -57,51.5"/>
<polyline points="-92,14.5 -92,16 -91,16 -91,17.2 -89,17.8 -88.3,18.5"/>
<polyline points="-89,14 -87,13 -85,14.8 -83.5,15"/>
<polyline points="-72,12 -72.5,9 -72,7 -67.5,6 -67.5,2 -69.5,1.2 -70,-4.2 -73,-7 -72.5,-9.5 -70.5,-11 -69,-11 -66,-10 -65,-12 -61.5,-13.5 -60,-16 -58,-16 -58,-20 -55,-22.5 -54.5,-25.5 -53.7,-27 -57.5,-30.2 -53.5,-33.7"/>
<polyline points="-60,8.3 -61,5 -60,5 -60,2 -56,2 -52,2.2 -51.6,4.3"/>
<polyline points="-57,6 -56,2"/>
<polyline points="-54,2.2 -54,5.7"/>
<polyline points="-70.3,-18.4 -69.5,-17.5 -68.5,-22.5 -67,-23 -68.5,-27 -70,-33 -71.5,-41 -71.8,-46 -73,-49 -72.5,-52 -68.6,-52.3"/>
<polyline points="-69,-11 -69.5,-15 -69,-17.5"/>
<polyline points="-68.5,-22.5 -62.5,-22 -58,-20"/>
<polyline points="-62.5,-22 -58,-27 -54.5,-25.5"/>
<polyline points="-80.3,-3.4 -78,-3 -75.5,-1 -75.2,0 -77,0.8 -78.8,1.4"/>
<polyline points="-75.2,0 -70,-4.2"/>
<polyline points="-1.8,35 -1.5,32 -4,30 -8.7,27.7 -8.7,25.5 -12,26 -17,21.3"/>
<polyline points="8.4,36.9 8.2,32.5 9.5,30 10,25 12,23.5 14,22.5 16,23.5 24,19.5 24,20 25,20 25,22 25,31.6"/>
<polyline points="25,22 37,22"/>
<polyline points="-12,25 -5,25 -5,16.5 4,16 4,19 12,23.5"/>
<polyline points="-17,15 -12,15 -11.5,12.4 -8,10.3 -5.5,10.5 -3,11 0,11 4,13.5 7,13 14,13 15.5,7.5 16,10 22,13 22,16 24,19.5"/>
<polyline points="9,2 11.3,2.2 16,2 18.6,4.3 22.5,4.2 27.5,5 31,3.5 35,4.5 38,3.5 41,4 41,-1.6"/>
<polyline points="14,-5 18,-7.8 21,-7 22,-11 24,-11 25.5,-12 28,-12.5 29,-8.5 29.5,-5 30,-2.5 29.7,-1 31,-1 34,-1 37.5,-3.5 39.2,-4.7"/>
<polyline points="12,-17.5 18,-17.5 21,-18 21,-22 20,-24.8 20,-28.4 16.5,-28.6"/>
<polyline points="20,-22 25,-17.8 30,-15.6 33,-17 33,-22.4 32,-26.8 29,-27.5 25.5,-25.5 20,-24.8"/>
<polyline points="33.5,-9.5 35,-11.5 38,-11.2 40.5,-10.5"/>
<polyline points="37,22 36.9,18 38.5,17.5 36.5,14.5 36,12.5 34.5,10 34,8.5 33,7.5 35,5 35.9,4.6"/>
<polyline points="33,3.5 31,3.5 29,4.5 27,5 24,8.5 23.5,10.8 22,13"/>
<polyline points="42.7,11.5 42,9.5 44,9 47.5,8 45,5 41.9,4 41,-1.6"/>
<polyline points="24,9 27,9.5 34,10"/>
<polyline points="-1.8,43.4 0.5,42.7 3.2,42.4"/>
<polyline points="-8.9,42 -6.5,42 -7,39.5 -7.5,37.2"/>
<polyline points="2.5,51 5.9,50.7 6.3,49.5 8.2,49 7.5,47.6 6,46.2 7,45.5 7.5,43.8"/>
<polyline points="6,50.7 6.8,52.3 7,53.5"/>
<polyline points="7.5,47.6 10,47.5 13,47.5 13,48.6 12,50.3 14.8,51 14.3,53.3 14,54"/>
<polyline points="14.8,51 16.5,50.2 18.8,49.5 22.5,49 24,50.7 23.5,52.1 23.8,53.8 23,54.4 21,55.3"/>
<polyline points="13,47.5 16,46.8 16.8,48.5 18.8,47.8 22.5,48.2 22.9,48 26.6,48.2 28,46.6 28.2,45.5 29.6,45.4"/>
<polyline points="22.9,48 20,45.8 22.5,44.5 22.8,43.8 28.6,43.8"/>
<polyline points="13.6,45.5 16,46.8 19,45.9 19.5,44 19.4,41.7"/>
<polyline points="22.4,42.3 22.9,41.3 20.7,40.9 21,42.2"/>
<polyline points="21,56 26.5,55.7 28,56.1 27.7,57.5 27.5,59.4"/>
<polyline points="23.6,52 26,51.9 31.5,52.1 32,52.6 35,52.2 35.7,50.3 38,49.9 40,49.6 38.5,47.1"/>
<polyline points="28,56.1 32,53.1 31.7,52.1"/>
<polyline points="28,60.6 31.5,62.9 30,64 29.5,66.5 30,67.7 28.7,68.9 28.4,71"/>
<polyline points="12,59 12.5,61 12,63.5 14.5,65 18,68.5 20,69 23,68.5 28,69"/>
<polyline points="47,42 48,46.5 46.7,48.3 50,51.6 55,50.6 61,51 61,53.8 67,54.9 70,55.2 73,54 76,54 78,53 80,50.8 83,51 86,49.5 87.5,49.1 92,50.7 97,49.8 98,52 102,51.5 105,50.4 108,49.4 114,50.2 116.5,49.9 119,51.8 120.8,53.3 124,53.3 127.5,50 130.5,48.8 133,48.2 135,48.5 134,47.2 133.3,45 131,45 131,42.8 130.7,42.3"/>
<polyline points="55,41.3 56,41.3 58.5,45.5 61,44.4 62,43.5 66,42.9 69,41.4 71,42.8 74,43.2 80,42.5 80.5,45 82.5,45.5 83,47 85.5,47 87.5,49.1"/>
<polyline points="53,37.5 56,38 60.5,36.6 61.2,35.6 63,35.8 65,37.3 67.8,37.2 70,37.6 71.5,36.7 74.8,37.3 75.2,39 73.6,39.5 71,40.2 69,40.7 70,41.5"/>
<polyline points="44,39.4 44.8,37.2 45.5,35.9 46,35 45.6,34 47.5,32.8 48.5,30"/>
<polyline points="61.2,35.6 60.5,33.5 60.9,31.3 61.7,31.4 62.7,29.4 61,27.5 61.6,25.2"/>
<polyline points="74.8,37.3 71.5,36.5 71,34 69.3,33 69.5,31.5 66.5,29.9 62.7,29.4"/>
<polyline points="74.8,37.3 77.8,35.5 80,32.5 79,31 81,30.2 84,28.6 88,27.9 88.8,27.3 92,26.9 95.5,27.9 97.3,28.2 96.5,27 95,26 94,23.8 93.2,22.2 92.4,21"/>
<polyline points="74.5,32.8 74.6,31.1 73.5,29.8 71,27.8 70,25.7 71,24.4 68.8,24"/>
<polyline points="87.5,49.1 90.7,46 96,42.5 100,42.6 105,41.6 110,42.6 112,44 116,45 117.5,46.6 119.8,47 119,49.9"/>
<polyline points="97.3,28.2 98.6,25 98,24 99.5,22.1 101,21.5 101.8,22.4 104,22.7 106.7,22.8 108,21.5"/>
<polyline points="98.5,10 99,15 97.5,18 100,20.4 101,21.5"/>
<polyline points="100,20.4 101.5,17.7 104.5,17.6 105.6,15 103,14.3 102.5,12.2"/>
<polyline points="104,22.7 104,20 107,16.5 107.5,14 106,11.7 104.6,10.4"/>
<polyline points="103,14.3 106,14.5"/>
<polyline points="126.5,37.8 128.4,38.6"/>
<polyline points="124.3,40 126.5,41.6 128,42 130.7,42.3"/>
<polyline points="35,29.5 36,32 39,32.2 42,31.2 47,29 48.5,29.9"/>
<polyline points="39,32.2 41,34.4 42.2,37.3 44.8,37.2"/>
<polyline points="36.2,36.7 42.2,37.3"/>
<polyline points="43,17 46,17 52,19 55.7,22 55,22.7 51.6,24.3"/>
</g>
</defs>

<g filter="url(#rain)">
<rect x="60" y="215" width="700" height="230" fill="#000"/>
<use href="#F"/>
<use href="#F" transform="translate(438.75 0)"/>
<use href="#F" transform="translate(877.5 0)"/>
</g>

<g clip-path="url(#dat)">
<use href="#C"/>
<use href="#C" transform="translate(438.75 0)"/>
<use href="#C" transform="translate(877.5 0)"/>
</g>

<g stroke="#a0a0a0" stroke-width="1" stroke-dasharray="2 3" fill="none">
<line x1="72" y1="178.5" x2="746" y2="178.5"/>
<line x1="108.5" y1="177" x2="108.5" y2="222"/>
<line x1="181.5" y1="177" x2="181.5" y2="222"/>
<line x1="254.5" y1="177" x2="254.5" y2="222"/>
<line x1="327.5" y1="177" x2="327.5" y2="222"/>
<line x1="400.5" y1="177" x2="400.5" y2="222"/>
<line x1="474.5" y1="177" x2="474.5" y2="222"/>
<line x1="547.5" y1="177" x2="547.5" y2="222"/>
<line x1="620.5" y1="177" x2="620.5" y2="222"/>
<line x1="693.5" y1="177" x2="693.5" y2="222"/>
</g>

<rect x="71.2" y="175.3" width="676.2" height="261.9" fill="none" stroke="#000" stroke-width="2.2"/>
<g stroke="#000" stroke-width="1.2">
<line x1="63" y1="179" x2="71" y2="179"/>
<line x1="63" y1="223.6" x2="71" y2="223.6"/>
<line x1="63" y1="268.2" x2="71" y2="268.2"/>
<line x1="63" y1="312.8" x2="71" y2="312.8"/>
<line x1="63" y1="357.4" x2="71" y2="357.4"/>
<line x1="63" y1="402" x2="71" y2="402"/>
<line x1="108.3" y1="438" x2="108.3" y2="442"/>
<line x1="181.4" y1="438" x2="181.4" y2="442"/>
<line x1="254.6" y1="438" x2="254.6" y2="442"/>
<line x1="327.7" y1="438" x2="327.7" y2="442"/>
<line x1="400.8" y1="438" x2="400.8" y2="442"/>
<line x1="473.9" y1="438" x2="473.9" y2="442"/>
<line x1="547.1" y1="438" x2="547.1" y2="442"/>
<line x1="620.2" y1="438" x2="620.2" y2="442"/>
<line x1="693.3" y1="438" x2="693.3" y2="442"/>
</g>

<g class="lbl" font-size="14" text-anchor="end">
<text x="62" y="184" textLength="33" lengthAdjust="spacingAndGlyphs">120N</text>
<text x="62" y="228.6" textLength="25.5" lengthAdjust="spacingAndGlyphs">90N</text>
<text x="62" y="273.2" textLength="25.5" lengthAdjust="spacingAndGlyphs">60N</text>
<text x="62" y="317.8" textLength="25.5" lengthAdjust="spacingAndGlyphs">30N</text>
<text x="62" y="362.4" textLength="17" lengthAdjust="spacingAndGlyphs">EQ</text>
<text x="62" y="407" textLength="25.5" lengthAdjust="spacingAndGlyphs">30S</text>
</g>
<g class="lbl" font-size="13" text-anchor="middle">
<text x="108.3" y="456" textLength="23.3" lengthAdjust="spacingAndGlyphs">180</text>
<text x="181" y="456" textLength="35" lengthAdjust="spacingAndGlyphs">120W</text>
<text x="254.2" y="456" textLength="25" lengthAdjust="spacingAndGlyphs">60W</text>
<text x="327.5" y="456" textLength="6.5" lengthAdjust="spacingAndGlyphs">0</text>
<text x="400.8" y="456" textLength="23" lengthAdjust="spacingAndGlyphs">60E</text>
<text x="473.9" y="456" textLength="31" lengthAdjust="spacingAndGlyphs">120E</text>
<text x="547.1" y="456" textLength="23.3" lengthAdjust="spacingAndGlyphs">180</text>
<text x="620" y="456" textLength="35" lengthAdjust="spacingAndGlyphs">120W</text>
<text x="693" y="456" textLength="25" lengthAdjust="spacingAndGlyphs">60W</text>
</g>

<text class="lbl" x="141.7" y="162" font-size="22" textLength="532" lengthAdjust="spacingAndGlyphs">Rainfall (7-day accum.) [mm] 10Z25Sep2021</text>

<g stroke="#000" stroke-width="1">
<polygon points="220,525 220,540 163,532.5" fill="#aaaaaa"/>
<rect x="220" y="525" width="57.3" height="15" fill="#a0e632"/>
<rect x="277.3" y="525" width="57" height="15" fill="#00dc00"/>
<rect x="334.3" y="525" width="58" height="15" fill="#00c8c8"/>
<rect x="392.3" y="525" width="57.2" height="15" fill="#1e3cff"/>
<rect x="449.5" y="525" width="57" height="15" fill="#e6dc32"/>
<rect x="506.5" y="525" width="56.8" height="15" fill="#f08228"/>
<polygon points="563.3,525 563.3,540 620,532.5" fill="#fa3c3c"/>
</g>
<g class="lbl" font-size="12.5" text-anchor="middle">
<text x="220.3" y="552.5" textLength="7" lengthAdjust="spacingAndGlyphs">5</text>
<text x="278.5" y="552.5" textLength="17" lengthAdjust="spacingAndGlyphs">10</text>
<text x="334.3" y="552.5" textLength="17" lengthAdjust="spacingAndGlyphs">25</text>
<text x="392" y="552.5" textLength="17" lengthAdjust="spacingAndGlyphs">50</text>
<text x="449.5" y="552.5" textLength="24.4" lengthAdjust="spacingAndGlyphs">100</text>
<text x="506.5" y="552.5" textLength="24.4" lengthAdjust="spacingAndGlyphs">150</text>
<text x="563.8" y="552.5" textLength="24.3" lengthAdjust="spacingAndGlyphs">300</text>
</g>
<text class="lbl" x="593.3" y="552.5" font-size="12.5" textLength="45" lengthAdjust="spacingAndGlyphs">[mm]</text>
</svg>
</body></html>
